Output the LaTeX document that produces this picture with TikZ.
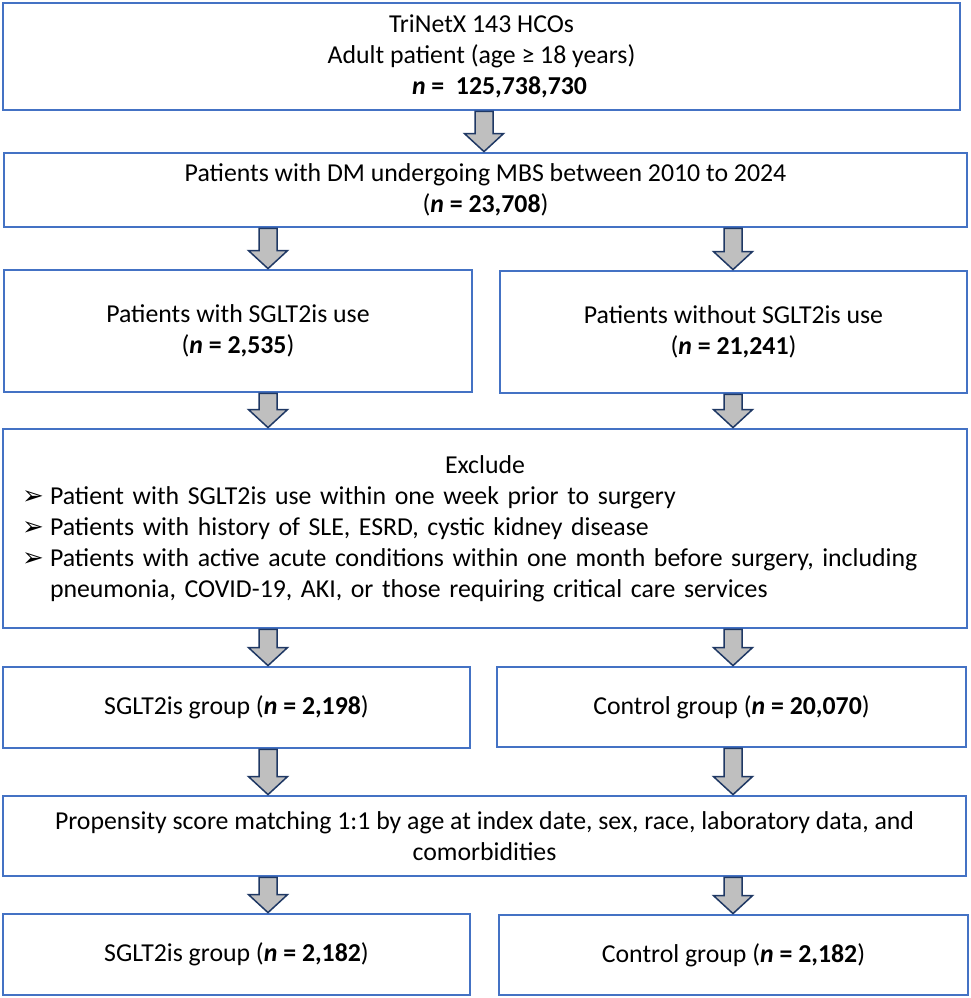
\documentclass[tikz,border=0pt]{standalone}
\usepackage{fontspec}
\setmainfont{Carlito}
\newfontfamily\dejavu{DejaVu Sans}
\usetikzlibrary{calc}

\definecolor{boxblue}{HTML}{4472C4}
\definecolor{arrgray}{HTML}{BFBFBF}
\definecolor{arrnavy}{HTML}{1F3864}

\newcommand{\nval}[1]{(\textbf{\textit{n} = #1})}
\newcommand{\bul}{\makebox[14pt][l]{\dejavu\fontsize{13}{15}\selectfont ➢}}
\newcommand{\blockarrow}[2]{%
	\draw[blockarr] let \p1=(#1), \p2=(#2) in
		(\x1-4.5pt,\y1) -- (\x1-4.5pt,\y2+9pt) -- (\x1-9.75pt,\y2+9pt) -- (\x2,\y2) -- (\x1+9.75pt,\y2+9pt) -- (\x1+4.5pt,\y2+9pt) -- (\x1+4.5pt,\y1) -- cycle;}

\begin{document}
\begin{tikzpicture}[x=0.5pt,y=-0.5pt,
		box/.style={draw=boxblue,line width=1.4pt,inner sep=0pt,align=center,font=\fontsize{12.9}{15.5}\selectfont},
		blockarr/.style={draw=arrnavy,fill=arrgray,line width=0.75pt,line join=miter}]
		\useasboundingbox (0,0) rectangle (971,998);
		\coordinate (colL) at (268,0);
		\coordinate (colM) at (484,0);
		\coordinate (colR) at (733,0);
		% boxes
		\node[box,minimum width=478.5pt,minimum height=53.5pt] (tnx) at (481.5,56.5) {TriNetX 143 HCOs\\Adult patient (age ≥ 18 years)\\\hspace*{18pt}\textbf{\textit{n} =\ \ 125,738,730}};
		\node[box,minimum width=481.5pt,minimum height=37pt] (dm) at (485.5,190) {Patients with DM undergoing MBS between 2010 to 2024\\\nval{23,708}};
		\node[box,minimum width=234pt,minimum height=61pt] (sglt) at (238,331) {Patients with SGLT2is use\\\nval{2,535}};
		\node[box,minimum width=233.5pt,minimum height=61pt] (nosglt) at (733.5,332) {Patients without SGLT2is use\\\nval{21,241}};
		\node[box,align=left,minimum width=482pt,minimum height=99.5pt,text width=463pt] (excl) at (485,528.5) {\setlength{\parindent}{0pt}%
			{\centering Exclude\par}
			\bul Patient with SGLT2is use within one week prior to surgery\par
			\bul Patients with history of SLE, ESRD, cystic kidney disease\par
			\hangindent=14pt\hangafter=1 \bul Patients with active acute conditions within one month before surgery, including\hfil\break pneumonia, COVID-19, AKI, or those requiring critical care services\par};
		\node[box,minimum width=233.5pt,minimum height=40.5pt] (sgltgrp) at (236.5,707.5) {SGLT2is group \nval{2,198}};
		\node[box,minimum width=234.5pt,minimum height=40pt] (ctrlgrp) at (731.5,707) {Control group \nval{20,070}};
		\node[box,minimum width=481.5pt,minimum height=40pt] (psm) at (484.5,836) {Propensity score matching 1:1 by age at index date, sex, race, laboratory data, and\\comorbidities};
		\node[box,minimum width=233.5pt,minimum height=40.5pt] (sgltpsm) at (236.5,954.5) {SGLT2is group \nval{2,182}};
		\node[box,minimum width=234.5pt,minimum height=40pt] (ctrlpsm) at (733.5,955) {Control group \nval{2,182}};
		% arrows
		\blockarrow{tnx.south -| colM}{dm.north -| colM}
		\blockarrow{dm.south -| colL}{sglt.north -| colL}
		\blockarrow{dm.south -| colR}{nosglt.north -| colR}
		\blockarrow{sglt.south -| colL}{excl.north -| colL}
		\blockarrow{nosglt.south -| colR}{excl.north -| colR}
		\blockarrow{excl.south -| colL}{sgltgrp.north -| colL}
		\blockarrow{excl.south -| colR}{ctrlgrp.north -| colR}
		\blockarrow{sgltgrp.south -| colL}{psm.north -| colL}
		\blockarrow{ctrlgrp.south -| colR}{psm.north -| colR}
		\blockarrow{psm.south -| colL}{sgltpsm.north -| colL}
		\blockarrow{psm.south -| colR}{ctrlpsm.north -| colR}
\end{tikzpicture}
\end{document}
